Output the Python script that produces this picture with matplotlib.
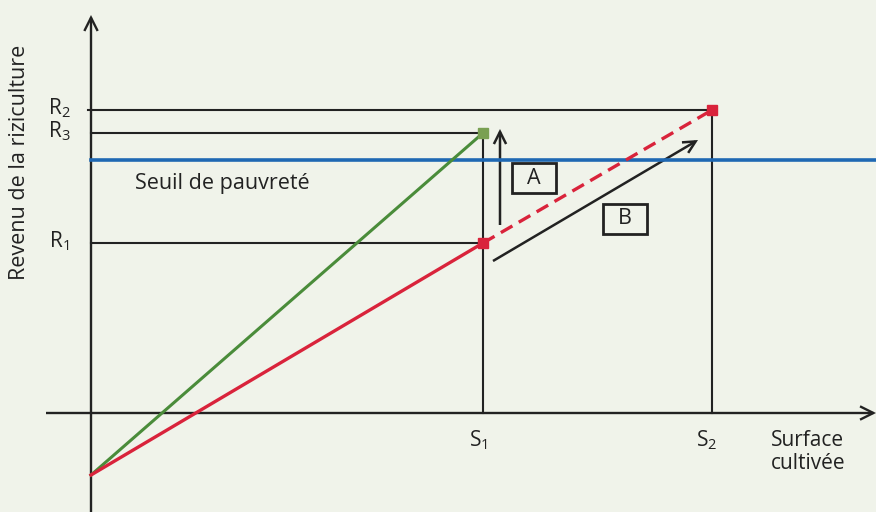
import matplotlib.pyplot as plt
from matplotlib.patches import FancyArrowPatch, Rectangle

plt.rcParams["font.family"] = ["Open Sans", "DejaVu Sans"]
plt.rcParams["mathtext.fontset"] = "custom"
plt.rcParams["mathtext.rm"] = "Open Sans"
plt.rcParams["mathtext.it"] = "Open Sans"

# abstract schematic values (x: surface, y: revenu)
surfaces = [3.92, 6.21]          # S1, S2
surface_labels = ["S$_1$", "S$_2$"]
r_values = {"R$_1$": 1.70, "R$_3$": 2.80, "R$_2$": 3.03}
poverty = 2.53
intercept = -0.62
r1, r3, r2 = r_values["R$_1$"], r_values["R$_3$"], r_values["R$_2$"]

bg = "#f0f3ea"
dark = "#222222"
red = "#d9233b"
green = "#4a8c3a"
blue = "#1f68b3"

fig = plt.figure(figsize=(8.76, 5.12), dpi=100, facecolor=bg)
ax = fig.add_axes([0, 0, 1, 1])
ax.set_facecolor(bg)
ax.set_xlim(-0.91, 7.85)
ax.set_ylim(-0.99, 4.13)
ax.axis("off")


def arrow(p0, p1, lw=1.8, ms=18):
    ax.add_patch(FancyArrowPatch(p0, p1, arrowstyle="->", mutation_scale=ms,
                                 lw=lw, color=dark, shrinkA=0, shrinkB=0,
                                 joinstyle="miter", capstyle="butt"))


# axes
arrow((0, -0.99), (0, 3.98), lw=1.7, ms=24)
arrow((-0.45, 0), (7.85, 0), lw=1.7, ms=24)

# guide lines
ax.plot([-0.03, surfaces[1]], [r2, r2], color=dark, lw=1.5)
ax.plot([0, surfaces[0]], [r3, r3], color=dark, lw=1.5)
ax.plot([0, surfaces[0]], [r1, r1], color=dark, lw=1.5)
ax.plot([surfaces[0], surfaces[0]], [0, r3], color=dark, lw=1.5)
ax.plot([surfaces[1], surfaces[1]], [0, r2], color=dark, lw=1.5)

# poverty line
ax.plot([0, 7.85], [poverty, poverty], color=blue, lw=2.6)
ax.text(0.44, poverty - 0.23, "Seuil de pauvreté", fontsize=15.5, color=dark,
        va="center", ha="left")

# revenue lines
ax.plot([0, surfaces[0]], [intercept, r3], color=green, lw=2.2)
ax.plot([0, surfaces[0]], [intercept, r1], color=red, lw=2.4)
ax.plot([surfaces[0], surfaces[1]], [r1, r2], color=red, lw=2.4,
        dashes=(4, 2.2))
ax.plot([surfaces[0]], [r3], marker="s", ms=6.5, color="#79a052", mec="#79a052")
ax.plot(surfaces, [r1, r2], marker="s", ms=6.5, ls="none", color=red, mec=red)

# arrows A and B
arrow((4.09, 1.88), (4.09, 2.84), lw=1.8, ms=22)
arrow((4.02, 1.52), (6.07, 2.73), lw=1.8, ms=22)
for label, x0, y0 in [("A", 4.21, 2.20), ("B", 5.12, 1.79)]:
    ax.add_patch(Rectangle((x0, y0), 0.44, 0.30, fc="none", ec=dark, lw=2))
    ax.text(x0 + 0.22, y0 + 0.15, label, fontsize=15.5, color=dark,
            ha="center", va="center")

# axis labels
for label, val in r_values.items():
    ax.text(-0.32, val + 0.02, label, fontsize=15, color=dark,
            ha="center", va="center")
for label, s in zip(surface_labels, surfaces):
    ax.text(s - 0.05, -0.27, label, fontsize=15, color=dark,
            ha="center", va="center")
ax.text(6.80, -0.39, "Surface\ncultivée", fontsize=15, color=dark,
        ha="left", va="center", linespacing=1.15)
ax.text(-0.71, 2.51, "Revenu de la riziculture", fontsize=15.5, color=dark,
        rotation=90, ha="center", va="center")

fig.savefig("out.png", dpi=100, facecolor=bg)
